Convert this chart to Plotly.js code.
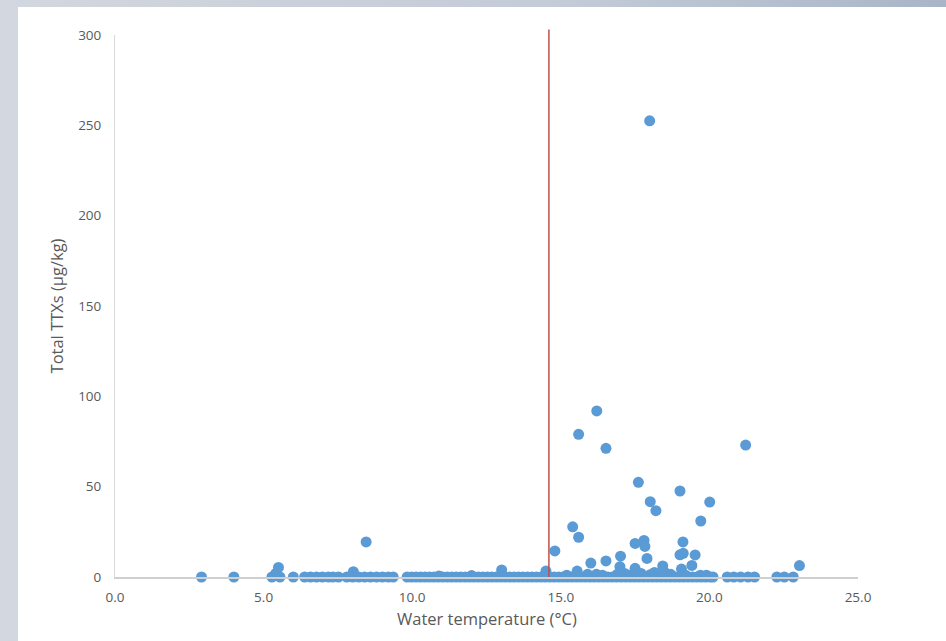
<!DOCTYPE html>
<html>
<head>
<meta charset="utf-8">
<script src="https://cdn.plot.ly/plotly-3.0.1.min.js"></script>
<style>
  html, body { margin: 0; padding: 0; width: 946px; height: 641px; overflow: hidden;
    background: linear-gradient(to right, #d3d7df 0%, #cbd1da 30%, #c3cbd7 60%, #a9b5c7 100%); }
  #panel { position: absolute; left: 18px; top: 7px; width: 928px; height: 634px; background: #ffffff; }
  #chart { width: 928px; height: 634px; }
</style>
</head>
<body>
<div id="panel"><div id="chart"></div></div>
<script>
// Water temperature (°C) of each sample
const waterTemp = [
  // samples with elevated TTX
  16.21, 15.60, 16.52, 21.22, 17.61, 19.01, 18.01, 20.01, 18.20, 19.71,
  15.40, 15.60, 14.80, 17.50, 17.80, 17.83, 19.11, 19.01, 19.12, 19.52,
  17.90, 17.01, 16.52, 16.01, 16.99, 17.50, 19.41, 18.43, 19.06, 23.03,
  15.55, 14.50, 13.01, 8.45, 8.02, 5.50, 5.41, 17.99,
  // low-level samples
  15.20, 15.90, 16.40, 16.90, 17.30, 17.70, 18.15, 18.35, 18.70, 19.20, 19.70, 18.00, 12.00, 10.90,
  16.20, 18.50, 19.90, 17.15,
  // non-detects
  2.91, 4.00, 5.28, 5.55, 6.00, 6.38, 6.58, 6.78, 6.98, 7.18, 7.33, 7.52, 7.80, 8.00, 8.20, 8.40, 8.60, 8.80, 9.00, 9.20, 9.36,
  9.83, 9.98, 10.13, 10.28, 10.43, 10.58, 10.73, 10.88, 11.03, 11.18, 11.33, 11.48, 11.63, 11.78, 11.93,
  12.08, 12.23, 12.38, 12.53, 12.68, 12.83, 12.98, 13.13, 13.28, 13.43, 13.58, 13.73, 13.88, 14.03,
  14.18, 14.33, 14.48, 14.63, 14.78, 14.93, 15.08, 15.23, 15.38, 15.53, 15.68, 15.83, 15.98, 16.13,
  16.28, 16.43, 16.58, 16.73, 16.88, 17.03, 17.18, 17.33, 17.48, 17.63, 17.78, 17.93, 18.08, 18.23,
  18.38, 18.53, 18.68, 18.83, 18.98, 19.13, 19.28, 19.43, 19.58, 19.73, 19.88, 20.03, 20.12,
  20.60, 20.82, 21.05, 21.30, 21.52, 22.27, 22.52, 22.82
];
// Total TTXs (µg/kg) of each sample, same order
const totalTTX = [
  91.9, 79.0, 71.2, 73.0, 52.4, 47.6, 41.7, 41.5, 36.7, 31.0,
  27.8, 22.0, 14.4, 18.6, 20.2, 16.9, 19.4, 12.3, 13.1, 12.2,
  10.3, 11.5, 8.9, 7.7, 5.7, 4.8, 6.4, 6.1, 4.4, 6.3,
  3.3, 3.3, 3.9, 19.4, 2.9, 5.3, 2.0, 252.5,
  1.0, 1.5, 1.0, 1.5, 1.0, 2.0, 2.5, 2.0, 1.5, 1.0, 1.0, 1.2, 0.8, 0.6,
  1.5, 2.5, 1.0, 2.0,
  0, 0, 0, 0, 0, 0, 0, 0, 0, 0, 0, 0, 0, 0, 0, 0, 0, 0, 0, 0, 0,
  0, 0, 0, 0, 0, 0, 0, 0, 0, 0, 0, 0, 0, 0, 0,
  0, 0, 0, 0, 0, 0, 0, 0, 0, 0, 0, 0, 0, 0,
  0, 0, 0, 0, 0, 0, 0, 0, 0, 0, 0, 0, 0, 0,
  0, 0, 0, 0, 0, 0, 0, 0, 0, 0, 0, 0, 0, 0,
  0, 0, 0, 0, 0, 0, 0, 0, 0, 0, 0, 0, 0,
  0, 0, 0, 0, 0, 0, 0, 0
];
// Temperature threshold marked by the vertical line
const thresholdTemp = 14.6;
const xTickVals = [0, 5, 10, 15, 20, 25];
const xTickText = ['0.0', '5.0', '10.0', '15.0', '20.0', '25.0'];
const yTickVals = [0, 50, 100, 150, 200, 250, 300];
const xTitle = 'Water temperature (°C)';
const yTitle = 'Total TTXs (µg/kg)';

const fam = 'Open Sans, Liberation Sans, sans-serif';
const axisFont = { family: fam, size: 13.5, color: '#595959' };
const titleFont = { family: fam, size: 16.5, color: '#595959' };

const trace = {
  type: 'scatter', mode: 'markers',
  x: waterTemp, y: totalTTX,
  marker: { color: '#5b9bd5', size: 11, line: { width: 0 } },
  cliponaxis: false, hoverinfo: 'x+y', showlegend: false
};

const layout = {
  width: 928, height: 634,
  margin: { l: 97, r: 88, t: 28, b: 64 },
  paper_bgcolor: '#ffffff', plot_bgcolor: '#ffffff',
  showlegend: false,
  xaxis: {
    range: [0, 25], tickvals: xTickVals, ticktext: xTickText,
    showgrid: false, zeroline: false, showline: true, linecolor: '#d0d0d0', linewidth: 1.5,
    ticks: '', tickfont: axisFont, ticklabelstandoff: 7,
    fixedrange: true
  },
  yaxis: {
    range: [0, 300], tickvals: yTickVals,
    showgrid: false, zeroline: false, showline: true, linecolor: '#d9d9d9', linewidth: 1,
    ticks: '', tickfont: axisFont, ticklabelstandoff: 10,
    title: { text: yTitle, font: titleFont, standoff: 10 },
    fixedrange: true
  },
  annotations: [{
    text: xTitle, font: titleFont, showarrow: false,
    xref: 'paper', yref: 'paper', x: 0.5, y: -0.076,
    xanchor: 'center', yanchor: 'middle'
  }],
  shapes: [{
    type: 'line', xref: 'x', yref: 'paper',
    x0: thresholdTemp, x1: thresholdTemp, y0: 0, y1: 1.01,
    line: { color: '#c0504d', width: 1.5 }
  }]
};

Plotly.newPlot('chart', [trace], layout, { displayModeBar: false, staticPlot: true });
</script>
</body>
</html>
